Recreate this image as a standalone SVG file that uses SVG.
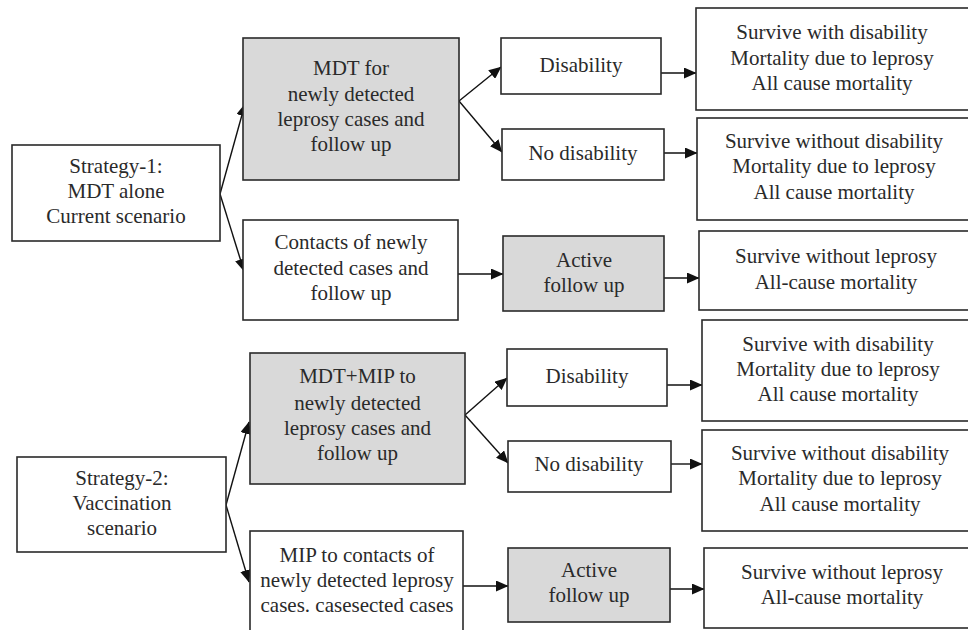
<svg xmlns="http://www.w3.org/2000/svg" width="968" height="630" viewBox="0 0 968 630">
<style>
.box{fill:#fff;stroke:#2a2a2a;stroke-width:1.6}
.grey{fill:#d9d9d9;stroke:#2a2a2a;stroke-width:1.6}
text{font-family:"Liberation Serif","Times New Roman",serif;font-size:21px;fill:#2a2a2a;text-anchor:middle}
.c{stroke:#111;stroke-width:1.4;fill:none;marker-end:url(#ah)}
</style>
<defs>
<marker id="ah" markerUnits="userSpaceOnUse" markerWidth="13" markerHeight="11" refX="12" refY="5.5" orient="auto">
<path d="M0,0 L12.5,5.5 L0,11 z" fill="#111"/>
</marker>
</defs>
<rect width="968" height="630" fill="#fff"/>
<g id="connectors">
<line class="c" x1="220" y1="194" x2="245" y2="104"/>
<line class="c" x1="220" y1="194" x2="244" y2="271"/>
<line class="c" x1="459" y1="101" x2="501" y2="67"/>
<line class="c" x1="459" y1="101" x2="502" y2="152"/>
<line class="c" x1="661" y1="73" x2="696" y2="73"/>
<line class="c" x1="664" y1="153" x2="697" y2="153"/>
<line class="c" x1="458" y1="274" x2="503" y2="274"/>
<line class="c" x1="664" y1="278" x2="699" y2="278"/>
<line class="c" x1="226" y1="505" x2="249" y2="422"/>
<line class="c" x1="226" y1="505" x2="249" y2="582"/>
<line class="c" x1="465" y1="415" x2="507" y2="378"/>
<line class="c" x1="465" y1="415" x2="508" y2="463"/>
<line class="c" x1="667" y1="385" x2="702" y2="385"/>
<line class="c" x1="671" y1="464" x2="702" y2="464"/>
<line class="c" x1="463" y1="586" x2="508" y2="586"/>
<line class="c" x1="670" y1="589" x2="704" y2="589"/>
</g>
<g id="strategy1">
<rect class="box" x="12" y="145" width="208" height="96"/>
<text x="116" y="173">Strategy-1:</text>
<text x="116" y="198">MDT alone</text>
<text x="116" y="223">Current scenario</text>
</g>
<g id="mdt">
<rect class="grey" x="243" y="38" width="216" height="142"/>
<text x="351" y="75">MDT for</text>
<text x="351" y="101">newly detected</text>
<text x="351" y="126">leprosy cases and</text>
<text x="351" y="151">follow up</text>
</g>
<g id="disability1">
<rect class="box" x="501" y="38" width="160" height="56"/>
<text x="581" y="72">Disability</text>
</g>
<g id="nodisability1">
<rect class="box" x="502" y="129" width="162" height="51"/>
<text x="583" y="160">No disability</text>
</g>
<g id="outcome1">
<rect class="box" x="696" y="8" width="274" height="102"/>
<text x="832" y="39">Survive with disability</text>
<text x="832" y="65">Mortality due to leprosy</text>
<text x="832" y="90">All cause mortality</text>
</g>
<g id="outcome2">
<rect class="box" x="697" y="118" width="273" height="102"/>
<text x="834" y="148">Survive without disability</text>
<text x="834" y="173">Mortality due to leprosy</text>
<text x="834" y="199">All cause mortality</text>
</g>
<g id="contacts">
<rect class="box" x="243" y="220" width="215" height="100"/>
<text x="351" y="249">Contacts of newly</text>
<text x="351" y="275">detected cases and</text>
<text x="351" y="300">follow up</text>
</g>
<g id="active1">
<rect class="grey" x="503" y="236" width="161" height="75"/>
<text x="584" y="267">Active</text>
<text x="584" y="292">follow up</text>
</g>
<g id="outcome3">
<rect class="box" x="699" y="231" width="271" height="79"/>
<text x="836" y="263">Survive without leprosy</text>
<text x="836" y="289">All-cause mortality</text>
</g>
<g id="strategy2">
<rect class="box" x="17" y="457" width="209" height="95"/>
<text x="122" y="485">Strategy-2:</text>
<text x="122" y="510">Vaccination</text>
<text x="122" y="535">scenario</text>
</g>
<g id="mdtmip">
<rect class="grey" x="250" y="353" width="215" height="131"/>
<text x="357.5" y="383">MDT+MIP to</text>
<text x="357.5" y="410">newly detected</text>
<text x="357.5" y="435">leprosy cases and</text>
<text x="357.5" y="460">follow up</text>
</g>
<g id="disability2">
<rect class="box" x="507" y="349" width="160" height="57"/>
<text x="587" y="383">Disability</text>
</g>
<g id="nodisability2">
<rect class="box" x="508" y="441" width="163" height="51"/>
<text x="589" y="471">No disability</text>
</g>
<g id="outcome4">
<rect class="box" x="702" y="320" width="268" height="101"/>
<text x="838" y="351">Survive with disability</text>
<text x="838" y="376">Mortality due to leprosy</text>
<text x="838" y="401">All cause mortality</text>
</g>
<g id="outcome5">
<rect class="box" x="702" y="430" width="268" height="101"/>
<text x="840" y="460">Survive without disability</text>
<text x="840" y="485">Mortality due to leprosy</text>
<text x="840" y="511">All cause mortality</text>
</g>
<g id="mip">
<rect class="box" x="250" y="531" width="213" height="110"/>
<text x="357" y="562">MIP to contacts of</text>
<text x="357" y="587">newly detected leprosy</text>
<text x="357" y="612">cases. casesected cases</text>
</g>
<g id="active2">
<rect class="grey" x="508" y="548" width="162" height="74"/>
<text x="589" y="577">Active</text>
<text x="589" y="602">follow up</text>
</g>
<g id="outcome6">
<rect class="box" x="704" y="548" width="266" height="80"/>
<text x="842" y="579">Survive without leprosy</text>
<text x="842" y="604">All-cause mortality</text>
</g>
</svg>
